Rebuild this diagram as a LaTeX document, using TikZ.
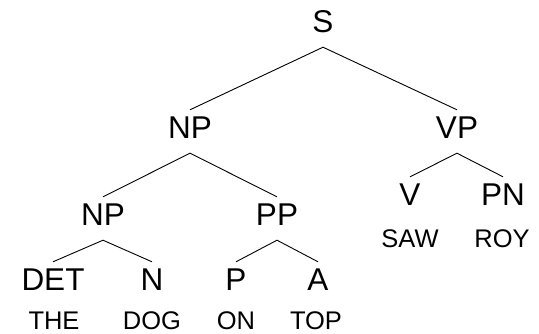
\documentclass[tikz,border=0pt]{standalone}
\usepackage{fontspec}
\setmainfont{Liberation Sans}
\begin{document}
\begin{tikzpicture}[x=1pt,y=-1pt,
  lab/.style={font=\fontsize{31.5}{36}\selectfont, inner xsep=0pt, inner ysep=5pt, text height=23pt, text depth=10pt, anchor=base},
  word/.style={font=\fontsize{25.5}{30}\selectfont, inner sep=0pt, anchor=base},
  edge/.style={line width=0.9pt, black}]
\useasboundingbox[fill=white] (0,0) rectangle (539,333);
\node[lab] (S) at (323,32) {S};
\node[lab] (NP) at (190,138) {NP};
\node[lab] (VP) at (457,138) {VP};
\node[lab] (NPb) at (103,225) {NP};
\node[lab] (PP) at (277,225) {PP};
\node[lab] (V) at (410,205) {V};
\node[lab] (PN) at (503,205) {PN};
\node[lab] (DET) at (53,290) {DET};
\node[lab] (N) at (152,290) {N};
\node[lab] (P) at (236,290) {P};
\node[lab] (A) at (318,290) {A};
\node[word] (the) at (54,329) {THE};
\node[word] (dog) at (152,329) {DOG};
\node[word] (on) at (236,329) {ON};
\node[word] (top) at (316,329) {TOP};
\node[word] (saw) at (410,247) {SAW};
\node[word] (roy) at (502,247) {ROY};
\draw[edge] (NP.north) -- (S.south) -- (VP.north);
\draw[edge] (NPb.north) -- (NP.south) -- (PP.north);
\draw[edge] (V.north) -- (VP.south) -- (PN.north);
\draw[edge] (DET.north) -- (NPb.south) -- (N.north);
\draw[edge] (P.north) -- (PP.south) -- (A.north);
\end{tikzpicture}
\end{document}
